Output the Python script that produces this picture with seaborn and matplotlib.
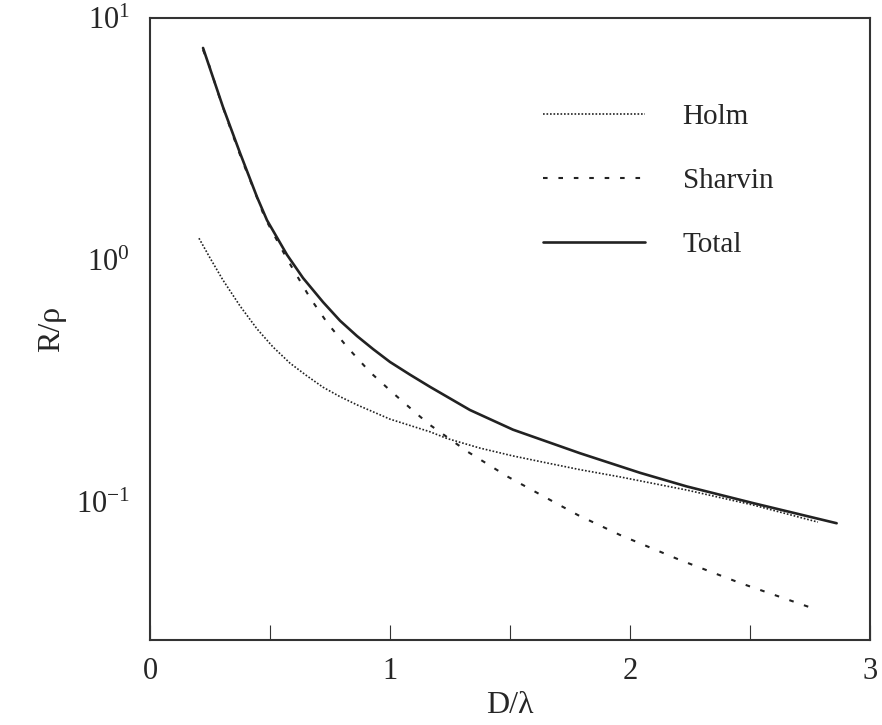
import numpy as np
import pandas as pd
import seaborn as sns
import matplotlib.pyplot as plt

# values (x = D/lambda, y = R/rho)
holm_x = [0.204, 0.25, 0.304, 0.375, 0.446, 0.5125, 0.583, 0.652, 0.721, 0.79, 0.8625, 1.0,
          1.167, 1.2375, 1.375, 1.5125, 1.654, 1.792, 1.958, 2.2375, 2.5125, 2.783]
holm_y = [1.23, 1.02, 0.826, 0.646, 0.519, 0.437, 0.375, 0.333, 0.298, 0.273, 0.252, 0.220,
          0.195, 0.183, 0.167, 0.155, 0.145, 0.136, 0.127, 0.112, 0.0972, 0.0826]

sharvin_x = [0.221, 0.246, 0.292, 0.3375, 0.383, 0.429, 0.479, 0.571, 0.667, 0.742, 0.825,
             0.917, 1.0125, 1.1125, 1.167, 1.325, 1.492, 1.667, 1.783, 1.958, 2.208, 2.458, 2.771]
sharvin_y = [7.38, 6.40, 4.62, 3.44, 2.59, 2.00, 1.49, 1.01, 0.697, 0.544, 0.433,
             0.344, 0.282, 0.231, 0.208, 0.161, 0.127, 0.102, 0.0883, 0.0731, 0.0576, 0.0463, 0.0361]

total_x = [0.221, 0.2625, 0.304, 0.375, 0.446, 0.4875, 0.571, 0.6375, 0.721, 0.792, 0.8625,
           0.93, 1.0, 1.083, 1.167, 1.333, 1.5125, 1.792, 2.042, 2.236, 2.514, 2.861]
total_y = [7.52, 5.68, 4.29, 2.77, 1.82, 1.46, 1.05, 0.843, 0.670, 0.561, 0.485,
           0.428, 0.379, 0.336, 0.299, 0.240, 0.199, 0.159, 0.132, 0.116, 0.0989, 0.0817]

x_ticks = [0, 0.5, 1, 1.5, 2, 2.5, 3]
x_labels = ['0', '', '1', '', '2', '', '3']

sns.set_style('white')
plt.rcParams['font.family'] = ['Liberation Serif', 'DejaVu Serif']
plt.rcParams['mathtext.fontset'] = 'custom'
plt.rcParams['mathtext.rm'] = 'Liberation Serif'
plt.rcParams['mathtext.it'] = 'Liberation Serif:italic'
plt.rcParams['axes.unicode_minus'] = False

fig = plt.figure(figsize=(8.82, 7.25), dpi=100)
ax = fig.add_axes([150 / 882, 85 / 725, 720 / 882, 622 / 725])

holm = pd.DataFrame({'x': holm_x, 'y': holm_y})
sharvin = pd.DataFrame({'x': sharvin_x, 'y': sharvin_y})
total = pd.DataFrame({'x': total_x, 'y': total_y})

sns.lineplot(data=holm, x='x', y='y', ax=ax, color='#222222', lw=1.2,
             label='Holm').lines[-1].set_dashes((1, 1.1))
sns.lineplot(data=sharvin, x='x', y='y', ax=ax, color='#222222', lw=1.5,
             label='Sharvin').lines[-1].set_dashes((2.2, 5.2))
sns.lineplot(data=total, x='x', y='y', ax=ax, color='#222222', lw=1.9, label='Total')

ax.set_yscale('log')
ax.set_xlim(0, 3)
ax.set_ylim(10 ** (1 - 622 / 242), 10)
ax.set_xticks(x_ticks)
ax.set_xticklabels(x_labels)
ax.set_yticks([0.1, 1, 10])
ax.yaxis.set_minor_locator(plt.NullLocator())
ax.tick_params(axis='x', bottom=True, direction='in', length=11, width=0.8,
               color='#333333', labelsize=22, pad=12)
ax.tick_params(axis='y', left=False, labelsize=22, pad=11)

for s in ax.spines.values():
    s.set_linewidth(1.5)
    s.set_color('#333333')

ax.set_xlabel('D/λ', fontsize=23, labelpad=4)
ax.set_ylabel('R/ρ', fontsize=23, labelpad=7)

ax.legend(loc='upper left', bbox_to_anchor=(0.546, 0.862), frameon=False, fontsize=21,
          handlelength=3.5, handletextpad=1.28, labelspacing=1.29,
          borderpad=0, borderaxespad=0)

fig.savefig('out.png', dpi=100)
